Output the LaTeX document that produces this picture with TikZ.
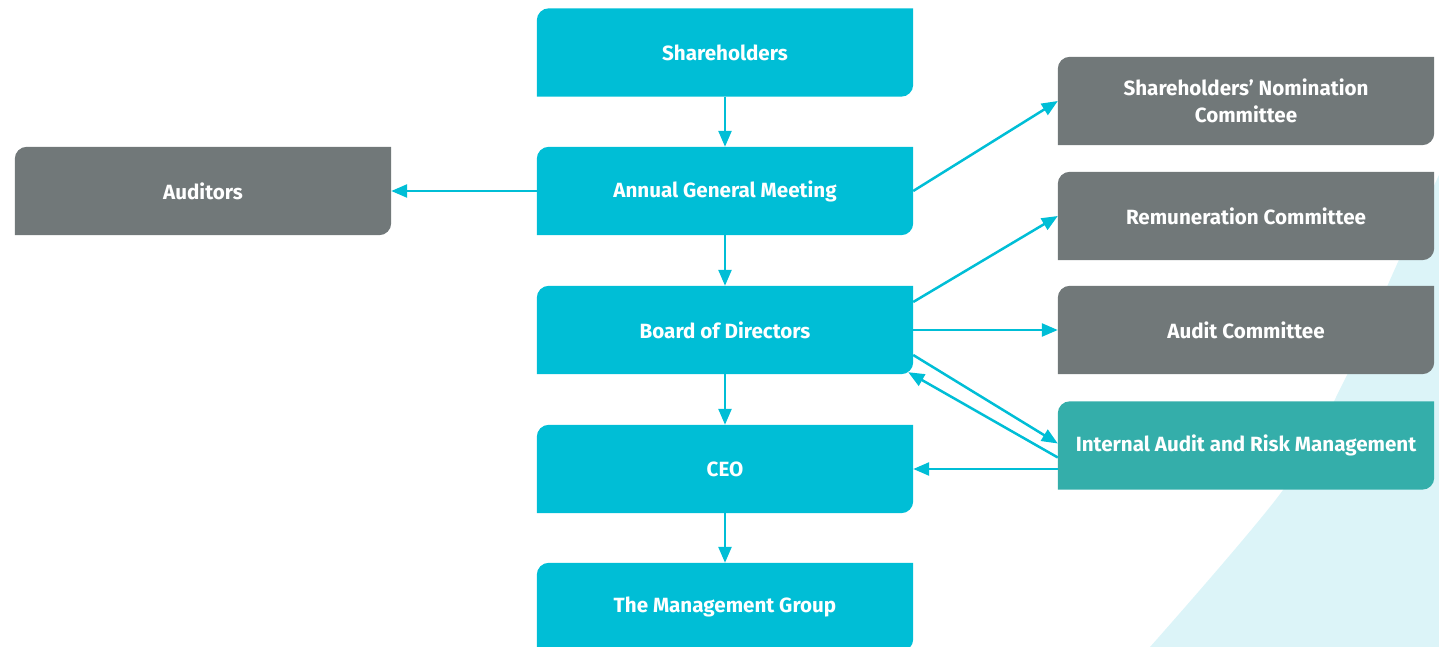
\documentclass[tikz,border=0pt]{standalone}
\usepackage{fontspec}
\setsansfont{Fira Sans}
\usepackage{tikz}
\usetikzlibrary{arrows.meta,backgrounds}
\definecolor{cgCyan}{HTML}{00BED6}
\definecolor{cgGrey}{HTML}{717879}
\definecolor{cgTeal}{HTML}{34AEAA}
\definecolor{cgHaze}{HTML}{DCF4F8}
\tikzset{
  cg diagram/.style={font=\sffamily\bfseries\fontsize{20.6}{27}\selectfont,
    text=white, x=1pt, y=1pt},
  cg box/.style={minimum width=376pt, minimum height=88pt,
    inner sep=0pt, align=center},
  cg arrow/.style={-{Triangle[length=16pt,width=13pt]}, draw=cgCyan,
    line width=2.5pt}
}

\begin{document}
\begin{tikzpicture}[cg diagram]
\path[use as bounding box, clip] (0,0) rectangle (1439,-647);
% main chain
\node[cg box] (sh) at (725,-52.5) {Shareholders};
\node[cg box] (agm) at (725,-191) {Annual General Meeting};
\node[cg box] (bod) at (725,-330) {Board of Directors};
\node[cg box] (ceo) at (725,-469) {CEO};
\node[cg box] (mg) at (725,-607) {The Management Group};
\node[cg box] (aud) at (203,-191) {Auditors};
% committees
\node[cg box] (nom) at (1246,-101) {Shareholders’ Nomination\\Committee};
\node[cg box] (rem) at (1246,-216) {Remuneration Committee};
\node[cg box] (ac) at (1246,-330) {Audit Committee};
\node[cg box] (ia) at (1246,-445.5) {Internal Audit and Risk Management};
\begin{scope}[on background layer]
  \fill[cgHaze] plot[smooth] coordinates {(1150,-647)(1283,-490)(1348,-373)(1398,-262)(1439,-175)}
    -- (1445,-175) -- (1445,-650) -- cycle;
  \foreach \n/\c in {sh/cgCyan,agm/cgCyan,bod/cgCyan,ceo/cgCyan,mg/cgCyan,
      aud/cgGrey,nom/cgGrey,rem/cgGrey,ac/cgGrey,ia/cgTeal}
    \fill[\c] (\n.south west) -- ([yshift=-12pt]\n.north west)
      arc[start angle=180,end angle=90,radius=12pt] -- (\n.north east)
      -- ([yshift=12pt]\n.south east)
      arc[start angle=0,end angle=-90,radius=12pt] -- cycle;
\end{scope}
\draw[cg arrow] (sh) -- (agm);
\draw[cg arrow] (agm) -- (bod);
\draw[cg arrow] (bod) -- (ceo);
\draw[cg arrow] (ceo) -- (mg);
\draw[cg arrow] (agm.west) -- (aud.east);
\draw[cg arrow] (agm.east) -- (nom.west);
\draw[cg arrow] ([yshift=28pt]bod.east) -- (rem.west);
\draw[cg arrow] (bod.east) -- (ac.west);
\draw[cg arrow] ([yshift=-25pt]bod.east) -- ([yshift=2pt]ia.west);
\draw[cg arrow] ([yshift=-12pt]ia.west) -- ([xshift=-5pt,yshift=2pt]bod.south east);
\draw[cg arrow] (ia.west |- ceo.east) -- (ceo.east);
\end{tikzpicture}
\end{document}
